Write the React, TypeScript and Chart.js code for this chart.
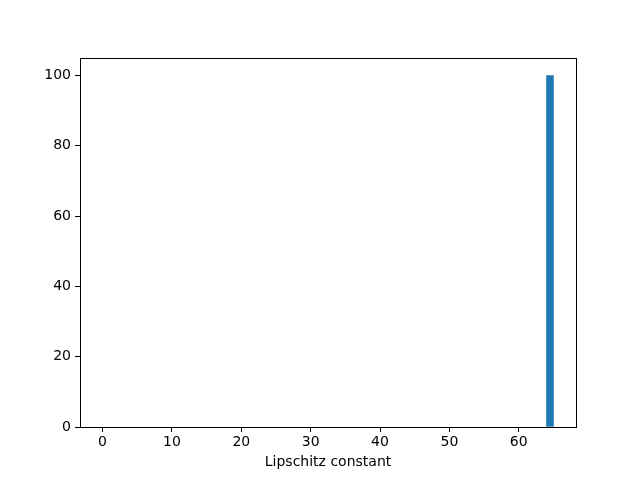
import React, { useEffect, useRef } from "react";
import { Chart, registerables } from "chart.js";

Chart.register(...registerables);

// Histogram bins (left edges) and counts
const binEdges: number[] = Array.from({ length: 66 }, (_, i) => i); // 0..65
const counts: number[] = [
  0, 0, 0, 0, 0, 0, 0, 0, 0, 0,
  0, 0, 0, 0, 0, 0, 0, 0, 0, 0,
  0, 0, 0, 0, 0, 0, 0, 0, 0, 0,
  0, 0, 0, 0, 0, 0, 0, 0, 0, 0,
  0, 0, 0, 0, 0, 0, 0, 0, 0, 0,
  0, 0, 0, 0, 0, 0, 0, 0, 0, 0,
  0, 0, 0, 0, 100,
];
const xTicks: number[] = [0, 10, 20, 30, 40, 50, 60];
const yTicks: number[] = [0, 20, 40, 60, 80, 100];
const xLabel = "Lipschitz constant";

const FONT = "'DejaVu Sans', sans-serif";

const framePlugin = {
  id: "frame",
  afterDraw(chart: any) {
    const { ctx, chartArea } = chart;
    ctx.save();
    ctx.strokeStyle = "#000";
    ctx.lineWidth = 1;
    ctx.strokeRect(
      Math.round(chartArea.left) + 0.5,
      Math.round(chartArea.top) + 0.5,
      Math.round(chartArea.right - chartArea.left),
      Math.round(chartArea.bottom - chartArea.top)
    );
    ctx.restore();
  },
};

export default function App() {
  const ref = useRef<HTMLCanvasElement | null>(null);

  useEffect(() => {
    document.body.style.margin = "0";
    if (!ref.current) return;
    const data = counts.map((c, i) => ({
      x: (binEdges[i] + binEdges[i + 1]) / 2,
      y: c === 0 ? null : c,
    }));
    const chart = new Chart(ref.current, {
      type: "bar",
      data: {
        datasets: [
          {
            data,
            backgroundColor: "#1f77b4",
            borderWidth: 0,
            barPercentage: 1,
            categoryPercentage: 1,
          },
        ],
      },
      options: {
        animation: false,
        responsive: false,
        devicePixelRatio: 1,
        layout: { padding: { left: 0, right: 64, top: 58, bottom: 9 } },
        plugins: { legend: { display: false }, tooltip: { enabled: false } },
        scales: {
          x: {
            type: "linear",
            offset: false,
            min: -3.25,
            max: 68.25,
            afterBuildTicks: (axis: any) => {
              axis.ticks = xTicks.map((v) => ({ value: v }));
            },
            afterFit: (axis: any) => {
              axis.height = 44;
            },
            grid: { offset: false, drawOnChartArea: false, drawTicks: true, tickLength: 5, color: "#000" },
            border: { display: true, color: "#000" },
            ticks: { color: "#000", font: { family: FONT, size: 14 }, padding: 2, maxRotation: 0 },
            title: {
              display: true,
              text: xLabel,
              color: "#000",
              font: { family: FONT, size: 14 },
              padding: { top: 2, bottom: 0 },
            },
          },
          y: {
            type: "linear",
            min: 0,
            max: 105,
            afterBuildTicks: (axis: any) => {
              axis.ticks = yTicks.map((v) => ({ value: v }));
            },
            afterFit: (axis: any) => {
              axis.width = 80;
            },
            grid: { drawOnChartArea: false, drawTicks: true, tickLength: 5, color: "#000" },
            border: { display: true, color: "#000" },
            ticks: { color: "#000", font: { family: FONT, size: 14 }, padding: 4 },
          },
        },
      },
      plugins: [framePlugin],
    } as any);
    return () => chart.destroy();
  }, []);

  return (
    <div style={{ position: "absolute", left: 0, top: 0, width: 640, height: 480, background: "#fff" }}>
      <canvas ref={ref} width={640} height={480} style={{ width: 640, height: 480 }} />
    </div>
  );
}
